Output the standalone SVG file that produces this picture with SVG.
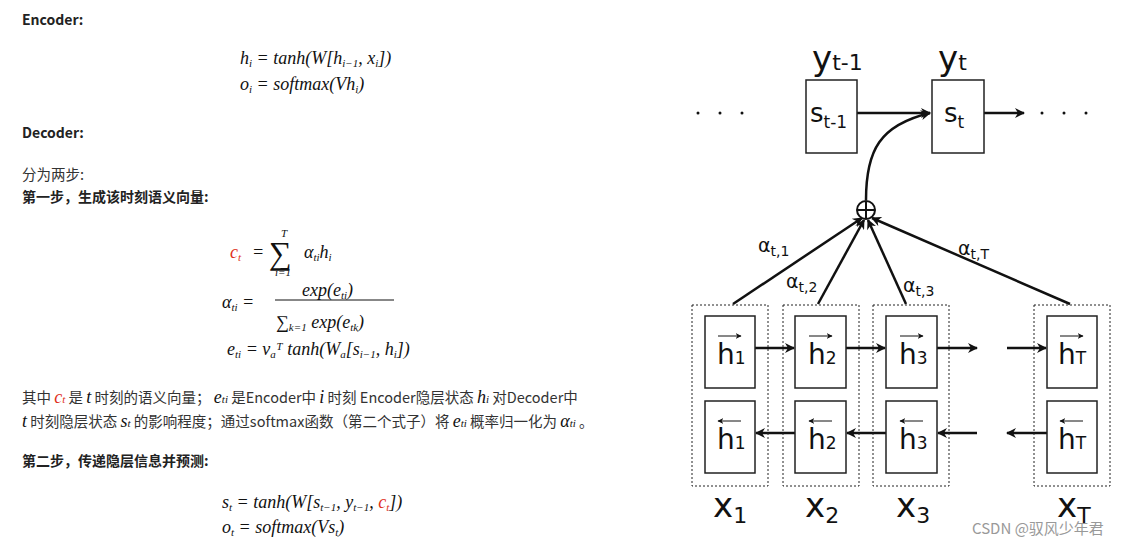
<svg xmlns="http://www.w3.org/2000/svg" width="1136" height="544" viewBox="0 0 1136 544">
<style>
.b{font-family:"Noto Sans CJK SC","Noto Sans",sans-serif;font-weight:bold;font-size:14px;fill:#222}
.t{font-family:"Noto Sans CJK SC","Noto Sans",sans-serif;font-size:14.5px;fill:#333}
.m{font-family:"Liberation Serif",serif;font-style:italic;font-size:18px;fill:#111}
.r{fill:#e03020}
.n{fill:#fff;stroke:#222;stroke-width:1.5}
.d{fill:none;stroke:#222;stroke-width:1;stroke-dasharray:2 2}
.l{stroke:#111;stroke-width:2.5;fill:none}
.s{font-family:"DejaVu Sans",sans-serif;fill:#111}
</style>
<defs><marker id="a" viewBox="0 0 10 10" refX="9" refY="5" markerWidth="6" markerHeight="6" orient="auto" markerUnits="userSpaceOnUse"><path d="M0,0L10,5L0,10L3,5z" fill="#111"/></marker>
<marker id="A" viewBox="0 0 10 10" refX="9" refY="5" markerWidth="12" markerHeight="10" orient="auto" markerUnits="userSpaceOnUse"><path d="M0,0L10,5L0,10L3,5z" fill="#111"/></marker></defs>
<rect width="1136" height="544" fill="#fff"/>
<g id="text">
<text class="b" x="22" y="25">Encoder:</text>
<text class="m" x="240" y="64">h<tspan font-size="11" dy="3">i</tspan><tspan dy="-3"> = tanh(W[h</tspan><tspan font-size="11" dy="3">i−1</tspan><tspan dy="-3">, x</tspan><tspan font-size="11" dy="3">i</tspan><tspan dy="-3">])</tspan></text>
<text class="m" x="240" y="90">o<tspan font-size="11" dy="3">i</tspan><tspan dy="-3"> = softmax(Vh</tspan><tspan font-size="11" dy="3">i</tspan><tspan dy="-3">)</tspan></text>
<text class="b" x="22" y="138">Decoder:</text>
<text class="t" x="22" y="180">分为两步:</text>
<text class="b" x="22" y="202">第一步，生成该时刻语义向量:</text>
<text class="m r" x="230" y="258">c<tspan font-size="11" dy="3">t</tspan></text>
<text class="m" x="252" y="258">=</text>
<text class="m" x="269" y="264" style="font-size:32px;font-style:normal">∑</text>
<text class="m" x="281" y="237" style="font-size:11px">T</text>
<text class="m" x="275" y="276" style="font-size:11px">i=1</text>
<text class="m" x="304" y="258">α<tspan font-size="11" dy="3">ti</tspan><tspan dy="-3">h</tspan><tspan font-size="11" dy="3">i</tspan></text>
<text class="m" x="222" y="308">α<tspan font-size="11" dy="3">ti</tspan><tspan dy="-3"> =</tspan></text>
<text class="m" x="302" y="296">exp(e<tspan font-size="11" dy="3">ti</tspan><tspan dy="-3">)</tspan></text>
<line x1="275" y1="300" x2="394" y2="300" stroke="#111"/>
<text class="m" x="276" y="328">∑<tspan font-size="11" dy="3">k=1</tspan><tspan dy="-3"> exp(e</tspan><tspan font-size="11" dy="3">tk</tspan><tspan dy="-3">)</tspan></text>
<text class="m" x="227" y="355">e<tspan font-size="11" dy="3">ti</tspan><tspan dy="-3"> = v</tspan><tspan font-size="11" dy="3">a</tspan><tspan dy="-3">ᵀ tanh(W</tspan><tspan font-size="11" dy="3">a</tspan><tspan dy="-3">[s</tspan><tspan font-size="11" dy="3">i−1</tspan><tspan dy="-3">, h</tspan><tspan font-size="11" dy="3">i</tspan><tspan dy="-3">])</tspan></text>
<text class="t" x="22" y="403">其中 <tspan class="m r">c<tspan font-size="11">t</tspan></tspan> 是 <tspan class="m">t</tspan> 时刻的语义向量；  <tspan class="m">e<tspan font-size="11">ti</tspan></tspan> 是Encoder中 <tspan class="m">i</tspan> 时刻 Encoder隐层状态 <tspan class="m">h<tspan font-size="11">i</tspan></tspan> 对Decoder中</text>
<text class="t" x="22" y="427"><tspan class="m">t</tspan> 时刻隐层状态 <tspan class="m">s<tspan font-size="11">t</tspan></tspan> 的影响程度；通过softmax函数（第二个式子）将 <tspan class="m">e<tspan font-size="11">ti</tspan></tspan> 概率归一化为 <tspan class="m">α<tspan font-size="11">ti</tspan></tspan> 。</text>
<text class="b" x="22" y="466">第二步，传递隐层信息并预测:</text>
<text class="m" x="222" y="508">s<tspan font-size="11" dy="3">t</tspan><tspan dy="-3"> = tanh(W[s</tspan><tspan font-size="11" dy="3">t−1</tspan><tspan dy="-3">, y</tspan><tspan font-size="11" dy="3">t−1</tspan><tspan dy="-3">, </tspan><tspan class="r">c</tspan><tspan class="r" font-size="11" dy="3">t</tspan><tspan dy="-3">])</tspan></text>
<text class="m" x="222" y="533">o<tspan font-size="11" dy="3">t</tspan><tspan dy="-3"> = softmax(Vs</tspan><tspan font-size="11" dy="3">t</tspan><tspan dy="-3">)</tspan></text>
</g>
<g id="connectors">
<line class="l" x1="857" y1="113" x2="930" y2="113" marker-end="url(#A)"/>
<line class="l" x1="984" y1="113" x2="1024" y2="113" marker-end="url(#A)"/>
<path class="l" d="M866,200 C866,150 880,125 930,113" marker-end="url(#A)"/>
<line class="l" x1="733" y1="304" x2="862" y2="218" marker-end="url(#A)"/>
<line class="l" x1="818" y1="304" x2="864" y2="220" marker-end="url(#A)"/>
<line class="l" x1="906" y1="304" x2="868" y2="220" marker-end="url(#A)"/>
<line class="l" x1="1070" y1="304" x2="872" y2="218" marker-end="url(#A)"/>
<line class="l" x1="755" y1="348" x2="794" y2="348" marker-end="url(#A)"/>
<line class="l" x1="846" y1="348" x2="885" y2="348" marker-end="url(#A)"/>
<line class="l" x1="937" y1="348" x2="977" y2="348" marker-end="url(#A)"/>
<line class="l" x1="1007" y1="348" x2="1046" y2="348" marker-end="url(#A)"/>
<line class="l" x1="795" y1="433" x2="756" y2="433" marker-end="url(#A)"/>
<line class="l" x1="886" y1="433" x2="847" y2="433" marker-end="url(#A)"/>
<line class="l" x1="977" y1="433" x2="938" y2="433" marker-end="url(#A)"/>
<line class="l" x1="1047" y1="433" x2="1007" y2="433" marker-end="url(#A)"/>
</g>
<g id="dots" fill="#111"><circle cx="698" cy="113" r="1.5"/><circle cx="720" cy="113" r="1.5"/><circle cx="742" cy="113" r="1.5"/><circle cx="1042" cy="113" r="1.5"/><circle cx="1064" cy="113" r="1.5"/><circle cx="1086" cy="113" r="1.5"/></g>
<g id="oplus"><circle cx="866" cy="210" r="9" fill="#fff" stroke="#111" stroke-width="2"/><path d="M857,210H875M866,201V219" stroke="#111" stroke-width="2"/></g>
<g id="labels" class="s">
<text x="758" y="252" font-size="19">α<tspan font-size="14" dy="4">t,1</tspan></text>
<text x="786" y="288" font-size="19">α<tspan font-size="14" dy="4">t,2</tspan></text>
<text x="903" y="292" font-size="19">α<tspan font-size="14" dy="4">t,3</tspan></text>
<text x="958" y="255" font-size="19">α<tspan font-size="14" dy="4">t,T</tspan></text>
</g>
<g id="s_tm1"><rect class="n" x="806" y="80" width="51" height="73"/><text class="s" x="810" y="122" font-size="26">s<tspan font-size="17" dy="6">t-1</tspan></text><text class="s" x="812" y="70" font-size="34">y<tspan font-size="22">t-1</tspan></text></g>
<g id="s_t"><rect class="n" x="932" y="80" width="52" height="73"/><text class="s" x="944" y="122" font-size="26">s<tspan font-size="17" dy="6">t</tspan></text><text class="s" x="938" y="70" font-size="34">y<tspan font-size="22">t</tspan></text></g>
<g id="col1"><rect class="d" x="692" y="305" width="76" height="181"/><rect class="n" x="705" y="316" width="50" height="72"/><rect class="n" x="705" y="401" width="50" height="72"/>
<text class="s" x="717" y="364" font-size="28">h<tspan font-size="17">1</tspan></text><path d="M718,336H741" stroke="#111" marker-end="url(#a)"/>
<text class="s" x="717" y="449" font-size="28">h<tspan font-size="17">1</tspan></text><path d="M741,421H718" stroke="#111" marker-end="url(#a)"/>
<text class="s" x="713" y="517" font-size="34">x<tspan font-size="22" dy="6">1</tspan></text></g>
<g id="col2"><rect class="d" x="783" y="305" width="76" height="181"/><rect class="n" x="795" y="316" width="51" height="72"/><rect class="n" x="795" y="401" width="51" height="72"/>
<text class="s" x="808" y="364" font-size="28">h<tspan font-size="17">2</tspan></text><path d="M809,336H832" stroke="#111" marker-end="url(#a)"/>
<text class="s" x="808" y="449" font-size="28">h<tspan font-size="17">2</tspan></text><path d="M832,421H809" stroke="#111" marker-end="url(#a)"/>
<text class="s" x="805" y="517" font-size="34">x<tspan font-size="22" dy="6">2</tspan></text></g>
<g id="col3"><rect class="d" x="873" y="305" width="76" height="181"/><rect class="n" x="886" y="316" width="51" height="72"/><rect class="n" x="886" y="401" width="51" height="72"/>
<text class="s" x="899" y="364" font-size="28">h<tspan font-size="17">3</tspan></text><path d="M900,336H923" stroke="#111" marker-end="url(#a)"/>
<text class="s" x="899" y="449" font-size="28">h<tspan font-size="17">3</tspan></text><path d="M923,421H900" stroke="#111" marker-end="url(#a)"/>
<text class="s" x="896" y="517" font-size="34">x<tspan font-size="22" dy="6">3</tspan></text></g>
<g id="colT"><rect class="d" x="1034" y="305" width="76" height="181"/><rect class="n" x="1047" y="316" width="50" height="72"/><rect class="n" x="1047" y="401" width="50" height="72"/>
<text class="s" x="1058" y="364" font-size="28">h<tspan font-size="17">T</tspan></text><path d="M1060,336H1083" stroke="#111" marker-end="url(#a)"/>
<text class="s" x="1058" y="449" font-size="28">h<tspan font-size="17">T</tspan></text><path d="M1083,421H1060" stroke="#111" marker-end="url(#a)"/>
<text class="s" x="1057" y="517" font-size="34">x<tspan font-size="22" dy="6">T</tspan></text></g>
<text x="972" y="534" font-family="'Noto Sans CJK SC',sans-serif" font-size="15" fill="#999">CSDN @驭风少年君</text>
</svg>
